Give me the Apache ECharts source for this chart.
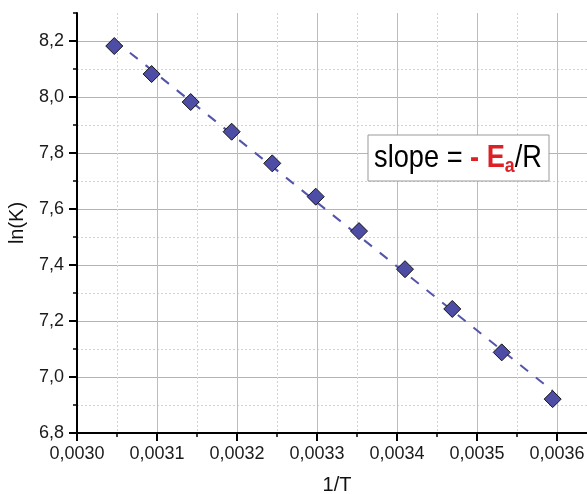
<!DOCTYPE html>
<html>
<head>
<meta charset="utf-8">
<script src="https://cdn.jsdelivr.net/npm/echarts@6/dist/echarts.min.js"></script>
<style>html,body{margin:0;padding:0;background:#fff}#c{width:587px;height:494px}</style>
</head>
<body>
<div id="c"></div>
<script>
// Data
const invT = [0.0030466, 0.0030933, 0.0031421, 0.0031933, 0.0032441, 0.0032984, 0.0033525, 0.0034100, 0.0034691, 0.0035309, 0.0035946];
const lnK  = [8.182, 8.082, 7.982, 7.876, 7.763, 7.644, 7.521, 7.385, 7.243, 7.088, 6.921];
// Dashed fit line end points
const fitX = [0.0030466, 0.0035946];
const fitY = [8.203, 6.950];
// Tick values
const xMajor = [0.0030, 0.0031, 0.0032, 0.0033, 0.0034, 0.0035, 0.0036];
const xMinor = [0.00305, 0.00315, 0.00325, 0.00335, 0.00345, 0.00355];
const yMajor = [6.8, 7.0, 7.2, 7.4, 7.6, 7.8, 8.0, 8.2];
const yMinor = [6.9, 7.1, 7.3, 7.5, 7.7, 7.9, 8.1, 8.3];

const FONT = '"Liberation Sans", Arial, sans-serif';
const xMin = 0.003, xMax = 0.0036375, yMin = 6.8, yMax = 8.3;

const chart = echarts.init(document.getElementById('c'), null, {renderer: 'canvas'});
chart.setOption({
  animation: false,
  backgroundColor: '#fff',
  grid: {left: 77, right: 0, top: 13, bottom: 61, containLabel: false, outerBoundsMode: 'none'},
  xAxis: [
    {
      type: 'value', min: xMin, max: xMax, interval: 0.00005, position: 'bottom',
      name: '1/T', nameLocation: 'middle', nameGap: 42,
      nameTextStyle: {fontFamily: FONT, fontSize: 20, color: '#111', padding: [0, 0, 0, 10]},
      axisLine: {show: true, lineStyle: {color: '#000', width: 2}},
      axisTick: {show: true, inside: false, length: 8, lineStyle: {color: '#000', width: 2}, customValues: xMajor},
      axisLabel: {show: true, margin: 12, fontFamily: FONT, fontSize: 18, color: '#1a1a1a', customValues: xMajor,
        formatter: v => v.toFixed(4).replace('.', ',')},
      splitLine: {show: true, showMinLine: false, lineStyle: {color: '#bdbdbd', width: 1}}
    },
    {
      type: 'value', min: xMin, max: xMax, interval: 0.00005, position: 'bottom',
      axisLine: {show: false},
      axisTick: {show: true, inside: false, length: 4, lineStyle: {color: '#000', width: 1.5}, customValues: xMinor},
      axisLabel: {show: false},
      splitLine: {show: true, lineStyle: {color: '#d2d2d2', width: 1, type: [2, 2]}}
    }
  ],
  yAxis: [
    {
      type: 'value', min: yMin, max: yMax, interval: 0.1, position: 'left',
      name: 'ln(K)', nameLocation: 'middle', nameGap: 50,
      nameTextStyle: {fontFamily: FONT, fontSize: 20, color: '#111'},
      axisLine: {show: true, lineStyle: {color: '#000', width: 2}},
      axisTick: {show: true, inside: false, length: 8, lineStyle: {color: '#000', width: 2}, customValues: yMajor},
      axisLabel: {show: true, margin: 13, fontFamily: FONT, fontSize: 18, color: '#1a1a1a', customValues: yMajor,
        formatter: v => v.toFixed(1).replace('.', ',')},
      splitLine: {show: true, showMinLine: false, lineStyle: {color: '#b4b4b4', width: 1}}
    },
    {
      type: 'value', min: yMin, max: yMax, interval: 0.1, position: 'left',
      axisLine: {show: false},
      axisTick: {show: true, inside: false, length: 4, lineStyle: {color: '#000', width: 1.5}, customValues: yMinor},
      axisLabel: {show: false},
      splitLine: {show: true, showMaxLine: false, lineStyle: {color: '#d2d2d2', width: 1, type: [2, 2]}}
    }
  ],
  series: [
    {
      type: 'line', xAxisIndex: 0, yAxisIndex: 0, z: 2,
      data: fitX.map((x, i) => [x, fitY[i]]),
      symbol: 'none', silent: true,
      lineStyle: {color: '#5454ab', width: 2, type: [10, 10]}
    },
    {
      type: 'scatter', xAxisIndex: 0, yAxisIndex: 0, z: 3,
      data: invT.map((x, i) => [x, lnK[i]]),
      symbol: 'diamond', symbolSize: 17,
      itemStyle: {color: '#4d4da6', borderColor: '#141414', borderWidth: 1, opacity: 1}
    }
  ],
  graphic: [
    {
      type: 'rect', z: 10,
      shape: {x: 368, y: 135, width: 181, height: 46},
      style: {fill: '#fff', stroke: '#9a9a9a', lineWidth: 1}
    },
    {
      type: 'text', z: 11, x: 458, y: 158, scaleX: 0.85,
      style: {
        x: 0, y: 0, align: 'center', verticalAlign: 'middle',
        text: '{n|slope = }{r|- E}{s|a}{n|/R}',
        rich: {
          n: {fontFamily: FONT, fontSize: 32, fill: '#000', lineHeight: 38},
          r: {fontFamily: FONT, fontSize: 32, fontWeight: 'bold', fill: '#dc2026', lineHeight: 38},
          s: {fontFamily: FONT, fontSize: 21, fontWeight: 'bold', fill: '#dc2026', lineHeight: 21, padding: [10, 0, 0, 0], verticalAlign: 'bottom'}
        }
      }
    }
  ]
});
</script>
</body>
</html>
